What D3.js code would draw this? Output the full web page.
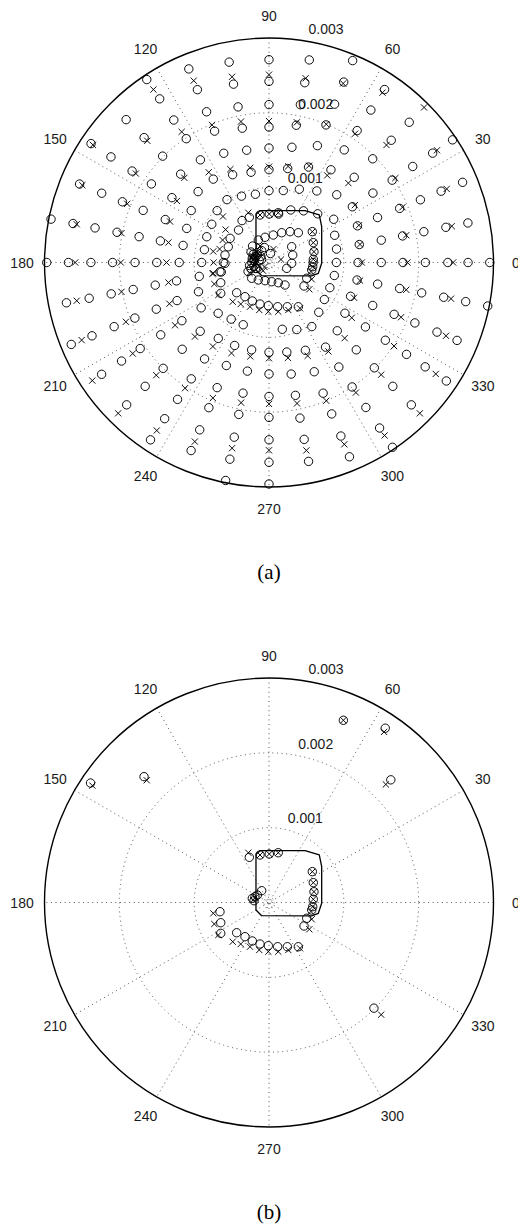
<!DOCTYPE html>
<html>
<head>
<meta charset="utf-8">
<script src="https://cdn.jsdelivr.net/npm/d3@7"></script>
<style>
  body { margin: 0; background: #fff; }
</style>
</head>
<body>
<div id="main"></div>
<script>
// ---- data ----
const R_MAX = 0.003;
const UNIT = 1e-5;               // all radii / coordinates below are in units of 1e-5
const ANGLE_TICKS = [0, 30, 60, 90, 120, 150, 180, 210, 240, 270, 300, 330];
const RADIAL_TICKS = [0.001, 0.002, 0.003];
const CAPTIONS = ["(a)", "(b)"];

// the 32 directions on which the grid of test positions lies (degrees)
const DIRECTIONS = [0, 11.25, 22.5, 33.75, 45, 56.25, 67.5, 78.75, 90, 101.25, 112.5, 123.75,
  135, 146.25, 157.5, 168.75, 180, 191.25, 202.5, 213.75, 225, 236.25, 247.5, 258.75,
  270, 281.25, 292.5, 303.75, 315, 326.25, 337.5, 348.75];

// (a) circles: radii along each direction
const RING_CIRCLES = [
  [295, 266, 239, 209, 179, 150, 119, 90, 59],
  [271, 241, 211, 182, 153, 123, 92],
  [280, 249, 219, 189, 157, 128, 95],
  [295, 263, 231, 198, 167, 134, 104],
  [265, 231, 196, 161, 128, 92],
  [278, 245, 212, 181, 149, 115, 83],
  [292, 261, 229, 199, 169, 138, 106, 76],
  [276, 245, 215, 187, 157, 128, 98, 66],
  [271, 242, 211, 181, 153, 124, 96],
  [273, 243, 212, 183, 153, 123, 93],
  [280, 250, 218, 190, 158, 127, 96],
  [294, 263, 229, 199, 165, 134, 101],
  [270, 236, 201, 167, 134, 98],
  [286, 254, 220, 189, 156, 125, 92],
  [274, 242, 212, 182, 150, 119, 90],
  [297, 267, 237, 207, 177, 148, 117, 88],
  [297, 268, 238, 209, 179, 150, 120, 90, 61],
  [276, 245, 215, 185, 155, 126, 95, 65],
  [286, 256, 224, 194, 163, 133, 102],
  [269, 237, 207, 174, 140, 109],
  [269, 234, 200, 164, 130, 96],
  [285, 251, 220, 187, 155, 122, 91],
  [272, 242, 210, 181, 149, 120, 90],
  [297, 268, 238, 207, 178, 148, 119],
  [296, 267, 237, 207, 179, 149, 120],
  [271, 241, 212, 181, 152, 122, 91],
  [281, 251, 219, 189, 158, 127, 97],
  [297, 266, 233, 200, 168, 136, 103],
  [269, 234, 199, 165, 129, 94],
  [285, 251, 221, 187, 155, 122, 89],
  [272, 243, 211, 181, 150, 118, 88],
  [298, 268, 238, 208, 178, 148, 120, 89]
];

// (a) crosses: radii along each direction
const RING_CROSSES = [
  [246, 185, 124],
  [249, 187, 124],
  [257, 193, 130],
  [270, 203, 138],
  [293, 222, 150],
  [273, 207, 140],
  [259, 200, 140],
  [251, 191, 131],
  [251, 189, 128],
  [253, 192, 129],
  [263, 199, 135],
  [278, 210, 145],
  [230, 160, 87],
  [283, 214, 148],
  [270, 205, 143],
  [262, 201, 137, 76],
  [259, 198, 137, 74],
  [262, 201, 137, 77],
  [271, 207, 144],
  [284, 219, 151],
  [285, 213, 140],
  [270, 202, 135],
  [259, 196, 131],
  [253, 191, 128],
  [251, 189, 128],
  [256, 192, 130],
  [263, 200, 135],
  [278, 209, 143],
  [285, 212, 143],
  [268, 201, 133],
  [256, 191, 123],
  [248, 187, 124]
];

// reference trajectory (x, y)
const TRACK = [[-17.4, 59.1], [-17.4, -10], [-9.8, -17.6], [57.1, -18], [65.9, -14.4], [70.4, -1.1],
  [70.4, 47.8], [67.2, 63.5], [48.1, 69.2], [-12, 69.2], [-17, 64.8], [-17.4, 59.1]];

// estimates close to the trajectory (x, y), shared by (a) and (b)
const TRACK_CIRCLES = [[-26.3, 60.4], [-12, 63.5], [0.4, 64.8], [12.4, 66.5],
  [57.9, 41.2], [59.2, 26.5], [60.1, 14.4], [59.2, 4.3], [58.4, -5.6], [57.1, -10], [50.4, -21.1], [46.8, -31.4],
  [-43.2, -40.4], [-32.1, -45.7], [-22.3, -51.4], [-12, -55.5], [-0.9, -57.7], [11.6, -59.1], [24.5, -59.1], [39.2, -59.1],
  [-65.5, -12.3], [-64.5, -27], [-64.5, -41.2],
  [-22.3, 5.6], [-20, 2.4], [-18.7, 7.8], [-15.6, 10], [-9.8, 15.8]];
const TRACK_CROSSES = [[-27.7, 66.5], [-12, 63.5], [0.4, 64.8], [12.4, 66.5],
  [57.9, 41.2], [59.2, 26.5], [60.1, 14.4], [59.2, 4.3], [58.4, -5.6], [56, -12], [57.1, -22.4], [53.9, -35.8],
  [-48.5, -52.4], [-37.8, -55.5], [-25.4, -59.1], [-13, -63.5], [-0.9, -65.7], [12.4, -65.7], [25.8, -63.5], [41.4, -61.2],
  [-74.4, -14.4], [-73.1, -28.7], [-67.7, -43.4],
  [-21, 3.3], [-18.7, 6.4]];

// (a) extra estimates inside and around the loop (x, y)
const INNER_CIRCLES_A = [[-14.3, 30.1], [-5.3, 33.7], [5.7, 36.7], [17, 39.8], [28.1, 41.2], [39.2, 39.8],
  [30.3, 21.1], [31.7, 10], [30.3, -1.1], [23.7, -7.8],
  [-23.1, -21.1], [-14.3, -23.4], [-5.3, -24.3], [3.6, -25.7], [12.4, -27], [21.4, -30.1],
  [-24, 14], [-22, 22], [-26, -4], [-28, -12], [-18, -8], [-10, 4], [-6, 20], [2, 12],
  [-21, 11], [-19, 5], [-23, 0], [-20, -5], [-16, -8], [-13, 3], [-11, 8], [-16, 13], [-24, -8],
  [-40.7, 43.4], [-52, 32.3], [-54.4, 21], [-58.8, 10], [-58.8, -1.1], [-36, 56]];
const INNER_CROSSES_A = [[-24, 8], [-20, -2], [-16, 14], [-12, 22], [-6, -6], [6, 18], [16, 4], [-26, -14],
  [-19, -3], [-13, -5], [-21, 8], [-8, -11],
  [-58, 44], [-62, 30], [-66, 18]];

// (b) outer estimates (angle deg, radius)
const OUTER_CIRCLES_B = [[67.8, 263], [56.3, 280], [45.2, 231], [134.8, 237], [146.2, 287], [314.8, 199]];
const OUTER_CROSSES_B = [[67.8, 263], [56, 275], [45.3, 222], [135, 231], [146.5, 283], [315, 212]];

// ---- layout ----
const ctx = {
  w: 518,
  h: 1225,
  R: 224.5,
  centers: [[269, 262.5], [269, 902.5]],
  captionDy: 309,
  font: "'Liberation Sans', Arial, Helvetica, sans-serif",
  serif: "'Liberation Serif', 'Times New Roman', serif",
  markerR: 4.2,
  crossH: 3.1,
};

const toRad = (a) => a * Math.PI / 180;
const polarToXY = (a, r) => [r * Math.cos(toRad(a)), r * Math.sin(toRad(a))];

function drawGrid(g, sx, sy, rScale) {
  const dotted = { stroke: "#444", "stroke-width": 0.9, "stroke-dasharray": "1,3.6", fill: "none" };
  // spokes
  [0, 30, 60, 90, 120, 150].forEach(function (a) {
    const p = polarToXY(a, R_MAX), q = polarToXY(a + 180, R_MAX);
    const l = g.append("line")
      .attr("x1", sx(p[0])).attr("y1", sy(p[1]))
      .attr("x2", sx(q[0])).attr("y2", sy(q[1]));
    Object.entries(dotted).forEach(([k, v]) => l.attr(k, v));
  });
  // rings
  RADIAL_TICKS.slice(0, 2).concat([0.00007]).forEach(function (t) {
    const c = g.append("circle").attr("cx", sx(0)).attr("cy", sy(0)).attr("r", rScale(t));
    Object.entries(dotted).forEach(([k, v]) => c.attr(k, v));
  });
  g.append("circle")
    .attr("cx", sx(0)).attr("cy", sy(0)).attr("r", rScale(R_MAX))
    .attr("fill", "none").attr("stroke", "#000").attr("stroke-width", 1.4);
  // angle labels
  g.selectAll(".alabel")
    .data(ANGLE_TICKS)
    .enter()
    .append("text")
    .attr("x", (d) => sx(polarToXY(d, R_MAX * 1.1)[0]))
    .attr("y", (d) => sy(polarToXY(d, R_MAX * 1.1)[1]))
    .attr("text-anchor", "middle")
    .attr("dy", "0.36em")
    .attr("font-family", ctx.font)
    .attr("font-size", 14)
    .attr("fill", "#1a1a1a")
    .text((d) => d);
  // radial labels
  g.selectAll(".rlabel")
    .data(RADIAL_TICKS)
    .enter()
    .append("text")
    .attr("x", (d) => sx(polarToXY(82, d + R_MAX / 60)[0]) + 7.8)
    .attr("y", (d) => sy(polarToXY(82, d + R_MAX / 60)[1]) - 2)
    .attr("font-family", ctx.font)
    .attr("font-size", 14)
    .attr("fill", "#1a1a1a")
    .text((d) => d.toFixed(3));
}

function drawMarkers(g, sx, sy, circles, crosses) {
  g.append("g").selectAll("circle")
    .data(circles)
    .enter()
    .append("circle")
    .attr("cx", (d) => sx(d[0]))
    .attr("cy", (d) => sy(d[1]))
    .attr("r", ctx.markerR)
    .attr("fill", "none")
    .attr("stroke", "#000")
    .attr("stroke-width", 0.95);
  const h = ctx.crossH;
  g.append("g").selectAll("path")
    .data(crosses)
    .enter()
    .append("path")
    .attr("transform", (d) => `translate(${sx(d[0])},${sy(d[1])})`)
    .attr("d", `M${-h},${-h}L${h},${h}M${-h},${h}L${h},${-h}`)
    .attr("stroke", "#000")
    .attr("stroke-width", 0.95);
}

function drawTrack(g, sx, sy) {
  g.append("path")
    .datum(TRACK.map((p) => [p[0] * UNIT, p[1] * UNIT]))
    .attr("d", d3.line().x((d) => sx(d[0])).y((d) => sy(d[1])))
    .attr("fill", "none")
    .attr("stroke", "#000")
    .attr("stroke-width", 1.3)
    .attr("stroke-linejoin", "round");
}

function createViz() {
  const svgEl = d3.select("#main").append("svg")
    .attr("width", ctx.w)
    .attr("height", ctx.h)
    .style("background", "#fff");

  const cart = (list) => list.map((p) => [p[0] * UNIT, p[1] * UNIT]);
  const polar = (list) => list.map((p) => polarToXY(p[0], p[1] * UNIT));

  // (a) points
  let circlesA = [], crossesA = [];
  DIRECTIONS.forEach(function (a, i) {
    RING_CIRCLES[i].forEach((r) => circlesA.push(polarToXY(a, r * UNIT)));
    RING_CROSSES[i].forEach((r) => crossesA.push(polarToXY(a, r * UNIT)));
  });
  circlesA = circlesA.concat(cart(TRACK_CIRCLES), cart(INNER_CIRCLES_A));
  crossesA = crossesA.concat(cart(TRACK_CROSSES), cart(INNER_CROSSES_A));

  const circlesB = polar(OUTER_CIRCLES_B).concat(cart(TRACK_CIRCLES));
  const crossesB = polar(OUTER_CROSSES_B).concat(cart(TRACK_CROSSES));

  const sets = [[circlesA, crossesA], [circlesB, crossesB]];

  ctx.centers.forEach(function (c, i) {
    const sx = d3.scaleLinear().domain([-R_MAX, R_MAX]).range([c[0] - ctx.R, c[0] + ctx.R]);
    const sy = d3.scaleLinear().domain([-R_MAX, R_MAX]).range([c[1] + ctx.R, c[1] - ctx.R]);
    const rScale = d3.scaleLinear().domain([0, R_MAX]).range([0, ctx.R]);
    const g = svgEl.append("g");
    drawGrid(g, sx, sy, rScale);
    drawTrack(g, sx, sy);
    drawMarkers(g, sx, sy, sets[i][0], sets[i][1]);
    svgEl.append("text")
      .attr("x", c[0])
      .attr("y", c[1] + ctx.captionDy)
      .attr("dy", "0.35em")
      .attr("text-anchor", "middle")
      .attr("font-family", ctx.serif)
      .attr("font-size", 21)
      .attr("fill", "#000")
      .text(CAPTIONS[i]);
  });
}

createViz();
</script>
</body>
</html>
